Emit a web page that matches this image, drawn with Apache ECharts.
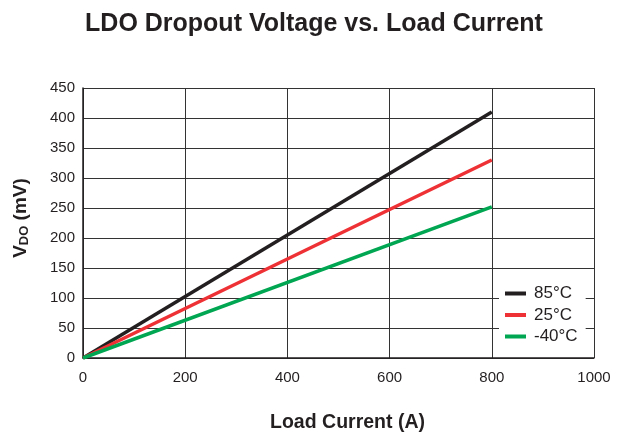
<!DOCTYPE html>
<html>
<head>
<meta charset="utf-8">
<script src="https://cdn.jsdelivr.net/npm/echarts@6/dist/echarts.min.js"></script>
<style>
  html, body { margin: 0; padding: 0; background: #fff; }
  #chart { width: 628px; height: 432px; }
</style>
</head>
<body>
<div id="chart"></div>
<script>
const loadCurrent = [0, 800]
const vdo85 = [0, 410]
const vdo25 = [0, 330]
const vdoM40 = [0, 252]
const seriesNames = ['85°C', '25°C', '-40°C']
const seriesColors = ['#231f20', '#ee3135', '#00a651']

const toPairs = (ys) => loadCurrent.map((x, i) => [x, ys[i]])

const chart = echarts.init(document.getElementById('chart'))

const option = {
    animation: false,
    backgroundColor: '#fff',
    textStyle: { fontFamily: 'Liberation Sans, Arial, sans-serif' },
    title: {
        text: 'LDO Dropout Voltage vs. Load Current',
        left: 'center',
        top: 7,
        textStyle: { fontSize: 25, fontWeight: 'bold', color: '#231f20' }
    },
    grid: { left: 83, top: 88, width: 511, height: 270, outerBoundsMode: 'none', containLabel: false },
    legend: {
        orient: 'vertical',
        left: 499,
        top: 272,
        backgroundColor: '#fff',
        padding: [13, 8, 10, 6],
        itemGap: 4.5,
        itemWidth: 21,
        itemHeight: 4,
        icon: 'rect',
        textStyle: { fontSize: 17, color: '#231f20', padding: [0, 0, 0, 3] },
        data: seriesNames
    },
    xAxis: {
        type: 'value',
        min: 0,
        max: 1000,
        interval: 200,
        name: 'Load Current (A)',
        nameLocation: 'middle',
        nameGap: 55,
        nameTextStyle: { fontSize: 19.5, fontWeight: 'bold', color: '#231f20', padding: [0, 0, 0, 18] },
        axisLine: { lineStyle: { color: '#231f20', width: 1.5 } },
        axisTick: { show: false },
        axisLabel: { fontSize: 15, color: '#231f20', margin: 12, formatter: (v) => String(v) },
        splitLine: { lineStyle: { color: '#333', width: 1 } }
    },
    yAxis: {
        type: 'value',
        min: 0,
        max: 450,
        interval: 50,
        name: '{v|V}{sub|DO}{v| (mV)}',
        nameLocation: 'middle',
        nameGap: 52,
        nameTextStyle: {
            padding: [0, 0, 0, 10],
            rich: {
                v: { fontSize: 19, fontWeight: 'bold', color: '#231f20' },
                sub: { fontSize: 13, fontWeight: 'bold', color: '#231f20', padding: [7, 0, 0, 0] }
            }
        },
        axisLine: { show: true, lineStyle: { color: '#231f20', width: 1.5 } },
        axisTick: { show: false },
        axisLabel: { fontSize: 15, color: '#231f20', margin: 8 },
        splitLine: { lineStyle: { color: '#333', width: 1 } }
    },
    series: [vdo85, vdo25, vdoM40].map((ys, i) => ({
        name: seriesNames[i],
        type: 'line',
        data: toPairs(ys),
        showSymbol: false,
        symbol: 'none',
        lineStyle: { color: seriesColors[i], width: 3.5 },
        itemStyle: { color: seriesColors[i] }
    }))
}

chart.setOption(option)
</script>
</body>
</html>
